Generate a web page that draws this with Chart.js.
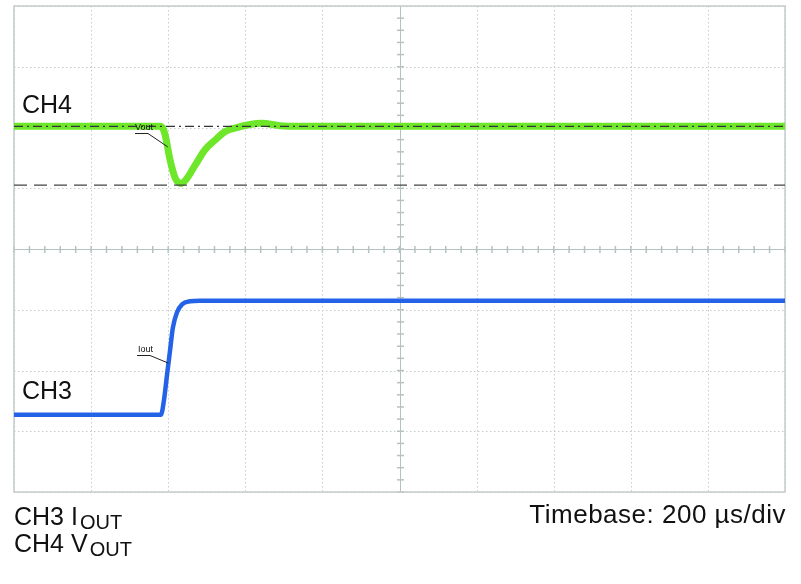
<!DOCTYPE html>
<html><head><meta charset="utf-8">
<script src="https://cdn.jsdelivr.net/npm/chart.js@4"></script>
<style>
html,body{margin:0;padding:0;background:#fff;}
#wrap{position:relative;width:801px;height:584px;}
</style></head>
<body>
<div id="wrap"><canvas id="c" width="801" height="584"></canvas></div>
<script>
// Time in microseconds (200 us/div, 10 divisions), amplitude in screen divisions (-4..4)
const ch4TimeUs = [0, 379, 385, 392, 405, 418, 433, 446, 470, 495, 521, 547, 573, 612, 643, 690, 742, 2000];
const ch4Div    = [2.02, 2.02, 2.0, 1.88, 1.46, 1.17, 1.08, 1.14, 1.38, 1.63, 1.79, 1.93, 1.99, 2.05, 2.07, 2.03, 2.02, 2.02];
const ch3TimeUs = [0, 381, 389, 397, 405, 412, 423, 436, 457, 482, 2000];
const ch3Div    = [-2.73, -2.73, -2.49, -2.07, -1.66, -1.30, -1.04, -0.91, -0.86, -0.85, -0.85];
const vrefTimeUs = [0, 2000];
const vnomDiv = [2.02, 2.02];     // dash-dot nominal Vout level
const vminDiv = [1.05, 1.05];     // dashed minimum level
const xTicks = [0,200,400,600,800,1000,1200,1400,1600,1800,2000];
const yTicks = [-4,-3,-2,-1,0,1,2,3,4];
const channelLabels = ["CH4", "CH3"];
const footLeft = [["CH3 I", "OUT"], ["CH4 V", "OUT"]];
const footRight = "Timebase: 200 \u00b5s/div";

const pts = (xs, ys) => xs.map((x, i) => ({x, y: ys[i]}));
const FONT = '"Liberation Sans", Arial, Helvetica, sans-serif';

const scopePlugin = {
  id: 'scope',
  beforeDatasetsDraw(chart) {
    const {ctx, chartArea: a, scales: {x, y}} = chart;
    ctx.save();
    // dotted grid
    ctx.strokeStyle = '#c4cccc';
    ctx.lineWidth = 1;
    ctx.setLineDash([1.5, 2.5]);
    xTicks.forEach(t => { const px = Math.round(x.getPixelForValue(t)) + 0.5;
      ctx.beginPath(); ctx.moveTo(px, a.top); ctx.lineTo(px, a.bottom); ctx.stroke(); });
    yTicks.forEach(t => { const py = Math.round(y.getPixelForValue(t)) + 0.5;
      ctx.beginPath(); ctx.moveTo(a.left, py); ctx.lineTo(a.right, py); ctx.stroke(); });
    ctx.setLineDash([]);
    // centre axes with minor ticks
    ctx.strokeStyle = '#b4c2c2';
    const cx = Math.round(x.getPixelForValue(1000)) + 0.5;
    const cy = Math.round(y.getPixelForValue(0)) + 0.5;
    ctx.beginPath(); ctx.moveTo(cx, a.top); ctx.lineTo(cx, a.bottom); ctx.stroke();
    ctx.beginPath(); ctx.moveTo(a.left, cy); ctx.lineTo(a.right, cy); ctx.stroke();
    ctx.lineWidth = 1.5;
    for (let t = 0; t <= 2000; t += 40) {
      const px = x.getPixelForValue(t);
      ctx.beginPath(); ctx.moveTo(px, cy - 3.5); ctx.lineTo(px, cy + 3.5); ctx.stroke();
    }
    for (let v = -4; v <= 4; v += 0.2) {
      const py = y.getPixelForValue(v);
      ctx.beginPath(); ctx.moveTo(cx - 3.5, py); ctx.lineTo(cx + 3.5, py); ctx.stroke();
    }
    // frame
    ctx.lineWidth = 1.5;
    ctx.strokeStyle = '#c4cccc';
    ctx.strokeRect(a.left, a.top, a.right - a.left, a.bottom - a.top);
    ctx.restore();
  },
  afterDatasetsDraw(chart) {
    const {ctx, scales: {x, y}} = chart;
    ctx.save();
    ctx.fillStyle = '#111';
    ctx.textBaseline = 'alphabetic';
    ctx.font = '25px ' + FONT;
    ctx.fillText(channelLabels[0], 22, 113);
    ctx.fillText(channelLabels[1], 22, 399);
    // small trace labels with leaders
    ctx.font = '9px ' + FONT;
    ctx.strokeStyle = '#222';
    ctx.lineWidth = 1;
    ctx.fillText('Vout', 135, 130);
    ctx.beginPath(); ctx.moveTo(135, 133.5); ctx.lineTo(148, 133.5);
    ctx.lineTo(x.getPixelForValue(399), y.getPixelForValue(1.68)); ctx.stroke();
    ctx.fillText('Iout', 138, 352);
    ctx.beginPath(); ctx.moveTo(137, 355.5); ctx.lineTo(150, 355.5);
    ctx.lineTo(x.getPixelForValue(401), y.getPixelForValue(-1.88)); ctx.stroke();
    // footer
    const lines = [525, 552];
    footLeft.forEach((f, i) => {
      ctx.font = '25px ' + FONT;
      ctx.fillText(f[0], 14, lines[i]);
      const w = ctx.measureText(f[0]).width;
      ctx.font = '20px ' + FONT;
      ctx.fillText(f[1], 14 + w + 2, lines[i] + 4);
    });
    ctx.font = '26px ' + FONT;
    ctx.letterSpacing = '0.5px';
    ctx.textAlign = 'right';
    ctx.fillText(footRight, 786, 523);
    ctx.restore();
  }
};

new Chart(document.getElementById('c'), {
  type: 'line',
  data: {
    datasets: [
      { data: pts(vrefTimeUs, vnomDiv), borderColor: '#333', borderWidth: 1.2, borderDash: [9, 4, 2, 4], pointRadius: 0, order: 0 },
      { data: pts(vrefTimeUs, vminDiv), borderColor: '#444', borderWidth: 1.2, borderDash: [13, 7], pointRadius: 0, order: 0 },
      { data: pts(ch4TimeUs, ch4Div), borderColor: '#6ee62a', borderWidth: 7, pointRadius: 0, cubicInterpolationMode: 'monotone', order: 1 },
      { data: pts(ch3TimeUs, ch3Div), borderColor: '#2463e8', borderWidth: 4.5, pointRadius: 0, cubicInterpolationMode: 'monotone', order: 1 }
    ]
  },
  options: {
    responsive: false,
    animation: false,
    devicePixelRatio: 1,
    layout: { padding: { left: 14, top: 6, right: 16, bottom: 92 } },
    plugins: { legend: { display: false }, tooltip: { enabled: false } },
    scales: {
      x: { type: 'linear', min: 0, max: 2000, display: false },
      y: { type: 'linear', min: -4, max: 4, display: false }
    }
  },
  plugins: [scopePlugin]
});
</script>
</body></html>
